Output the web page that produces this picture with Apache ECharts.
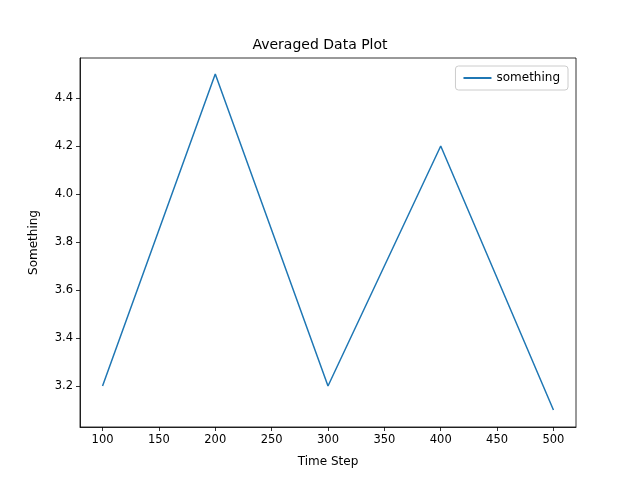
<!DOCTYPE html>
<html><head><meta charset="utf-8">
<script src="https://cdn.jsdelivr.net/npm/echarts@6/dist/echarts.min.js"></script>
<style>html,body{margin:0;padding:0;background:#fff}#c{width:640px;height:480px}</style>
</head><body><div id="c"></div>
<script>
const xValues = [100, 200, 300, 400, 500];
const yValues = [3.2, 4.5, 3.2, 4.2, 3.1];
const xTicks = [100, 150, 200, 250, 300, 350, 400, 450, 500];
const yTicks = [3.2, 3.4, 3.6, 3.8, 4.0, 4.2, 4.4];
const font = 'DejaVu Sans';
const chart = echarts.init(document.getElementById('c'));
const axisCommon = {
  axisLine: {onZero: false, lineStyle: {color: '#000', width: 0.8}},
  axisTick: {show: true, length: 4, inside: false, lineStyle: {color: '#000', width: 0.8}},
  splitLine: {show: false},
  nameTextStyle: {fontFamily: font, fontSize: 12, color: '#000'}
};
chart.setOption({
  animation: false,
  title: {text: 'Averaged Data Plot', left: 'center', top: 33, textStyle: {fontFamily: font, fontSize: 14, fontWeight: 'normal', color: '#000'}},
  legend: {data: ['something'], right: 72, top: 66, orient: 'vertical', itemWidth: 28, itemHeight: 2,
    textStyle: {fontFamily: font, fontSize: 12, color: '#000'},
    borderColor: '#ccc', borderWidth: 1, borderRadius: 3, padding: [6, 8],
    icon: 'rect'},
  grid: {left: 80, right: 64, top: 58, bottom: 53, show: true, borderColor: '#000', borderWidth: 0.8},
  xAxis: Object.assign({}, axisCommon, {
    type: 'value', min: 80, max: 520, position: 'bottom',
    name: 'Time Step', nameLocation: 'middle', nameGap: 29,
    axisTick: Object.assign({}, axisCommon.axisTick, {customValues: xTicks}),
    axisLabel: {customValues: xTicks, fontFamily: font, fontSize: 11.5, color: '#000', margin: 7}
  }),
  yAxis: Object.assign({}, axisCommon, {
    type: 'value', min: 3.029, max: 4.567,
    name: 'Something', nameLocation: 'middle', nameGap: 40,
    axisTick: Object.assign({}, axisCommon.axisTick, {customValues: yTicks}),
    axisLabel: {customValues: yTicks, fontFamily: font, fontSize: 11.5, color: '#000', margin: 7,
      formatter: v => v.toFixed(1)}
  }),
  series: [{
    name: 'something', type: 'line', data: xValues.map((x, i) => [x, yValues[i]]),
    showSymbol: false, symbol: 'none', lineStyle: {color: '#1f77b4', width: 1.5}, itemStyle: {color: '#1f77b4'}
  }]
});
</script></body></html>
